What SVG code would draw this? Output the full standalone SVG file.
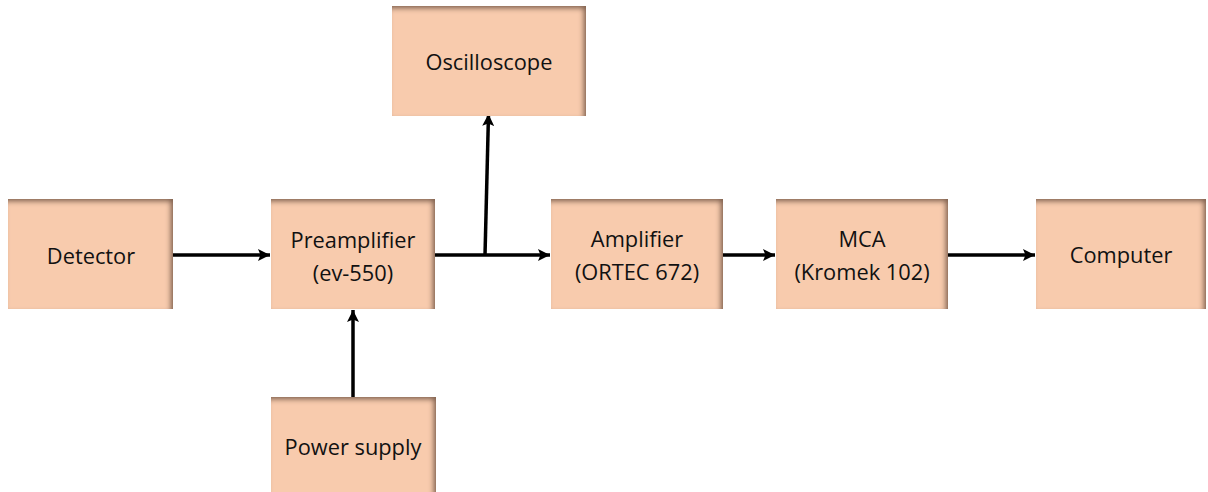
<svg xmlns="http://www.w3.org/2000/svg" width="1208" height="492" viewBox="0 0 1208 492">
<style>
.box{fill:#F8CBAD;filter:url(#inner)}
.lbl{font-family:"Open Sans","Noto Sans","Liberation Sans",sans-serif;font-size:21.8px;fill:#111;text-anchor:middle}
.conn{stroke:#000;stroke-width:3.5;fill:none;marker-end:url(#ah)}
</style>
<defs>
<filter id="inner" x="-10%" y="-10%" width="120%" height="120%">
<feComponentTransfer in="SourceAlpha" result="inv"><feFuncA type="table" tableValues="1 0"/></feComponentTransfer>
<feGaussianBlur in="inv" stdDeviation="2.5" result="blur"/>
<feOffset in="blur" dx="-3" dy="3" result="off"/>
<feFlood flood-color="#5a3b2b" flood-opacity="0.85"/>
<feComposite in2="off" operator="in" result="sh"/>
<feComposite in="sh" in2="SourceAlpha" operator="in" result="ish"/>
<feMerge><feMergeNode in="SourceGraphic"/><feMergeNode in="ish"/></feMerge>
</filter>
<marker id="ah" markerUnits="userSpaceOnUse" markerWidth="14" markerHeight="12" refX="12" refY="6" orient="auto">
<path d="M0,0 L12,6 L0,12 L2.5,6 Z" fill="#000"/>
</marker>
</defs>
<g id="connectors">
<line class="conn" x1="173" y1="255" x2="270" y2="255"/>
<line class="conn" x1="435" y1="255" x2="550" y2="255"/>
<line class="conn" x1="485" y1="255" x2="488.5" y2="114"/>
<line class="conn" x1="723" y1="255" x2="775" y2="255"/>
<line class="conn" x1="948" y1="255" x2="1035" y2="255"/>
<line class="conn" x1="353" y1="397" x2="353" y2="310"/>
</g>
<g id="detector"><rect class="box" x="8" y="199" width="165" height="110"/><text class="lbl" x="91" y="264">Detector</text></g>
<g id="preamplifier"><rect class="box" x="271" y="199" width="164" height="110"/><text class="lbl" x="353" y="248">Preamplifier</text><text class="lbl" x="353" y="281">(ev-550)</text></g>
<g id="oscilloscope"><rect class="box" x="392" y="6" width="194" height="110"/><text class="lbl" x="489" y="70">Oscilloscope</text></g>
<g id="power-supply"><rect class="box" x="271" y="397" width="165" height="110"/><text class="lbl" x="353" y="455">Power supply</text></g>
<g id="amplifier"><rect class="box" x="551" y="199" width="172" height="110"/><text class="lbl" x="637" y="247">Amplifier</text><text class="lbl" x="637" y="280">(ORTEC 672)</text></g>
<g id="mca"><rect class="box" x="776" y="199" width="172" height="110"/><text class="lbl" x="862" y="247">MCA</text><text class="lbl" x="862" y="280">(Kromek 102)</text></g>
<g id="computer"><rect class="box" x="1036" y="199" width="170" height="110"/><text class="lbl" x="1121" y="263">Computer</text></g>
</svg>
